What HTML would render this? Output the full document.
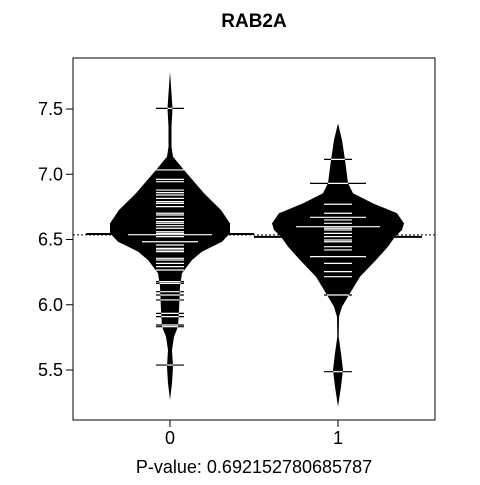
<!DOCTYPE html>
<html><head><meta charset="utf-8"><style>
body{margin:0;background:#fff}
svg text{font-family:"Liberation Sans",Arial,sans-serif}
</style></head><body>
<svg id="c" width="480" height="480" xmlns="http://www.w3.org/2000/svg"></svg>
<script>
const categories=["0","1"];
const yTicks=[5.5,6.0,6.5,7.0,7.5];
const yTickLabels=["5.5","6.0","6.5","7.0","7.5"];
const overallMean=6.535;
const groupMeans=[6.542,6.52];
const dens0V=[7.786,7.620,7.505,7.364,7.211,7.134,7.033,6.854,6.726,6.624,6.548,6.483,6.407,6.343,6.241,6.138,5.960,5.832,5.755,5.653,5.525,5.398,5.270];
const dens0W=[0,1.5,2.5,1.5,1.5,3,14,34,51,60,60,52,32,22,12,10,9,8,4,2,3,2,0];
const dens1V=[7.390,7.262,7.109,6.931,6.854,6.777,6.701,6.624,6.573,6.521,6.445,6.343,6.215,6.088,5.985,5.908,5.755,5.628,5.500,5.372,5.219];
const dens1W=[0,4,7,10,15,35,59,66,64,57,50,38,22,12,4,1,0.7,3,5,3,0];
const pts0=[7.505,7.033,6.961,6.943,6.879,6.859,6.841,6.815,6.790,6.777,6.752,6.701,6.688,6.662,6.637,6.624,6.606,6.586,6.560,6.547,6.537,6.522,6.483,6.458,6.432,6.420,6.407,6.356,6.343,6.317,6.292,6.266,6.177,6.164,6.100,6.075,6.037,5.934,5.909,5.845,5.832,5.538];
const cnt0=[1,1,1,1,1,1,1,1,1,1,1,1,1,1,1,1,1,1,1,1,3,1,2,1,1,1,1,1,1,1,1,1,1,1,1,1,1,1,1,1,1,1];
const pts1=[7.114,6.930,6.770,6.701,6.670,6.650,6.624,6.598,6.586,6.573,6.547,6.522,6.496,6.483,6.445,6.420,6.369,6.317,6.254,6.215,6.075,5.487];
const cnt1=[1,2,1,1,2,1,1,3,1,1,1,1,1,1,1,1,2,1,1,1,1,1];

const NS="http://www.w3.org/2000/svg";
const svg=document.getElementById('c');
const L=73,R=435,T=58,B=420;
const yS=v=>239.5-(v-6.5)*130.5;
const xS=i=>170+i*168;
function mk(t,a,p){const e=document.createElementNS(NS,t);for(const k in a)e.setAttribute(k,a[k]);(p||svg).appendChild(e);return e;}
function wAt(V,W,v){for(let i=0;i<V.length-1;i++){if(v<=V[i]&&v>=V[i+1]){const t=(V[i]-v)/(V[i]-V[i+1]);return W[i]+(W[i+1]-W[i])*t;}}return 0;}

const om=mk('line',{x1:L,x2:R,y1:yS(overallMean),y2:yS(overallMean),stroke:'#000','stroke-width':1,'stroke-dasharray':'2,2'});



const groups=[[dens0V,dens0W,pts0,cnt0],[dens1V,dens1W,pts1,cnt1]];
groups.forEach((g,gi)=>{
  const [V,W,P,C]=g;const cx=xS(gi);
  let d="";V.forEach((v,i)=>{d+=(i?"L":"M")+(cx+W[i])+","+yS(v);});
  for(let i=V.length-1;i>=0;i--)d+="L"+(cx-W[i])+","+yS(V[i]);d+="Z";
  const bean=mk('path',{d:d,fill:'#000'});
  
  
  const gm=mk('line',{x1:cx-84,x2:cx+84,y1:yS(groupMeans[gi]),y2:yS(groupMeans[gi]),stroke:'#000','stroke-width':2});
  
  
  P.forEach((v,i)=>{
    const hl=14*C[i];const y=yS(v);const bw=wAt(V,W,v);
    const b=mk('line',{x1:cx-hl,x2:cx+hl,y1:y,y2:y,stroke:'#000','stroke-width':1.2});
    
    
    const ww=Math.min(hl,bw);
    if(ww>0){const w=mk('line',{x1:cx-ww,x2:cx+ww,y1:y,y2:y,stroke:'#fff','stroke-width':1.2});
    
    }
  });
});
const box=mk('rect',{x:L,y:T,width:R-L,height:B-T,fill:'none',stroke:'#000','stroke-width':1});


yTicks.forEach((v,i)=>{
  const y=yS(v);
  const t=mk('line',{x1:L-7,x2:L,y1:y,y2:y,stroke:'#000'});
  
  
  const tx=mk('text',{x:L-10,y:y+6,'text-anchor':'end','font-size':18});
  tx.textContent=yTickLabels[i];
  
  
});
categories.forEach((c,i)=>{
  const x=xS(i);
  const t=mk('line',{x1:x,x2:x,y1:B,y2:B+7,stroke:'#000'});
  
  
  const tx=mk('text',{x:x,y:444,'text-anchor':'middle','font-size':18});
  tx.textContent=c;
  
  
});
const title=mk('text',{x:254,y:27,'text-anchor':'middle','font-size':19,'font-weight':'bold'});
title.textContent="RAB2A";


const xl=mk('text',{x:254,y:473,'text-anchor':'middle','font-size':18});
xl.textContent="P-value: 0.692152780685787";


</script>
</body></html>
